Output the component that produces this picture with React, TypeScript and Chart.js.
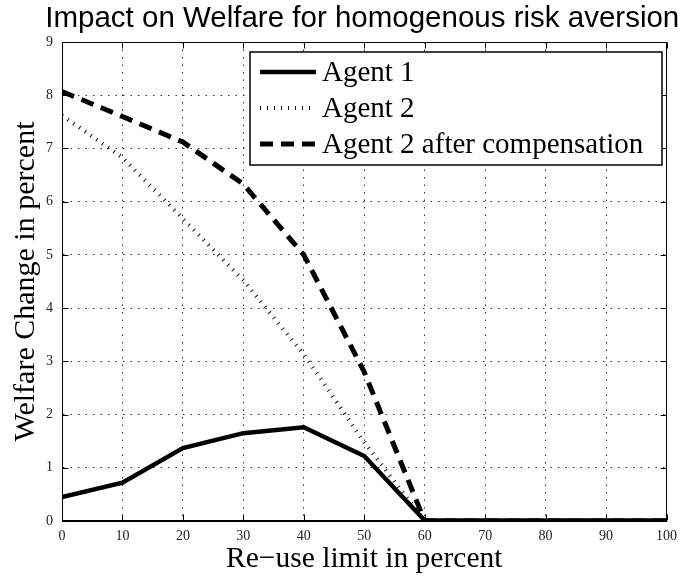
import React, { useEffect, useRef } from "react";
import { Chart, registerables } from "chart.js";

Chart.register(...registerables);

const reuseLimits = [0, 10, 20, 30, 40, 50, 60, 70, 80, 90, 100];
const agent1 = [0.45, 0.72, 1.37, 1.65, 1.76, 1.22, 0.01, 0.01, 0.01, 0.01, 0.01];
const agent2 = [7.62, 6.83, 5.68, 4.52, 3.13, 1.48, 0, 0, 0, 0, 0];
const agent2Comp = [8.07, 7.6, 7.12, 6.33, 5.0, 2.8, 0, 0, 0, 0, 0];
const seriesLabels = ["Agent 1", "Agent 2", "Agent 2 after compensation"];
const chartTitle = "Impact on Welfare for homogenous risk aversion";
const xTitle = "Re\u2212use limit in percent";
const yTitle = "Welfare Change in percent";

const SERIF = "'Liberation Serif', 'Times New Roman', serif";
const SANS = "'Liberation Sans', Arial, sans-serif";

const titlePlugin = {
  id: "freeTitle",
  afterDraw(chart: any) {
    const { ctx, chartArea: a } = chart;
    ctx.save();
    ctx.fillStyle = "#000";
    ctx.font = `29.5px ${SANS}`;
    ctx.textAlign = "center";
    ctx.textBaseline = "alphabetic";
    ctx.fillText(chartTitle, (a.left + a.right) / 2 - 2, 27);
    ctx.restore();
  },
};

const framePlugin = {
  id: "frame",
  afterDatasetsDraw(chart: any) {
    const { ctx, chartArea: a, scales } = chart;
    ctx.save();
    ctx.strokeStyle = "#000";
    ctx.lineWidth = 1;
    const L = Math.round(a.left) + 0.5;
    const T = Math.round(a.top) + 0.5;
    const R = Math.round(a.right) - 0.5;
    const B = Math.round(a.bottom) - 0.5;
    ctx.strokeRect(L, T, R - L, B - T);
    const tl = 6;
    ctx.beginPath();
    for (const t of scales.x.ticks) {
      const px = Math.round(scales.x.getPixelForValue(t.value)) + 0.5;
      ctx.moveTo(px, B);
      ctx.lineTo(px, B - tl);
      ctx.moveTo(px, T);
      ctx.lineTo(px, T + tl);
    }
    for (const t of scales.y.ticks) {
      const py = Math.round(scales.y.getPixelForValue(t.value)) + 0.5;
      ctx.moveTo(L, py);
      ctx.lineTo(L + tl, py);
      ctx.moveTo(R, py);
      ctx.lineTo(R - tl, py);
    }
    ctx.stroke();
    ctx.restore();
  },
};

const legendPlugin = {
  id: "boxLegend",
  afterDraw(chart: any) {
    const { ctx } = chart;
    const x0 = 250, y0 = 52, x1 = 662, y1 = 165;
    ctx.save();
    ctx.fillStyle = "#fff";
    ctx.fillRect(x0, y0, x1 - x0, y1 - y0);
    ctx.strokeStyle = "#000";
    ctx.lineWidth = 1.5;
    ctx.strokeRect(x0, y0, x1 - x0, y1 - y0);
    const rows = [72, 108, 144];
    chart.data.datasets.forEach((ds: any, i: number) => {
      const y = rows[i];
      ctx.save();
      ctx.strokeStyle = ds.borderColor;
      ctx.lineWidth = ds.borderWidth;
      ctx.setLineDash(ds.borderDash || []);
      ctx.beginPath();
      ctx.moveTo(260, y);
      ctx.lineTo(316, y);
      ctx.stroke();
      ctx.restore();
      ctx.fillStyle = "#000";
      ctx.font = `29px ${SERIF}`;
      ctx.textBaseline = "middle";
      ctx.textAlign = "left";
      ctx.fillText(ds.label, 322, y + 1);
    });
    ctx.restore();
  },
};

export default function App() {
  const ref = useRef<HTMLCanvasElement>(null);
  useEffect(() => {
    if (!ref.current) return;
    const gridStyle = {
      display: true,
      color: "#333",
      lineWidth: 1,
      drawTicks: false,
      tickLength: 0,
    };
    const chart = new Chart(ref.current, {
      type: "line",
      data: {
        datasets: [
          {
            label: seriesLabels[0],
            data: reuseLimits.map((x, i) => ({ x, y: agent1[i] })),
            borderColor: "#000",
            borderWidth: 4.5,
            pointRadius: 0,
            tension: 0,
          },
          {
            label: seriesLabels[1],
            data: reuseLimits.map((x, i) => ({ x, y: agent2[i] })),
            borderColor: "#111",
            borderWidth: 4,
            borderDash: [1, 6],
            pointRadius: 0,
            tension: 0,
          },
          {
            label: seriesLabels[2],
            data: reuseLimits.map((x, i) => ({ x, y: agent2Comp[i] })),
            borderColor: "#000",
            borderWidth: 5,
            borderDash: [13, 8],
            pointRadius: 0,
            tension: 0,
          },
        ],
      },
      options: {
        animation: false,
        responsive: false,
        maintainAspectRatio: false,
        layout: { padding: { left: 0, right: 14, top: 42, bottom: 0 } },
        plugins: {
          legend: { display: false },
          tooltip: { enabled: false },
          title: { display: false },
        },
        scales: {
          x: {
            type: "linear",
            min: 0,
            max: 100,
            ticks: {
              stepSize: 10,
              color: "#222",
              font: { family: SERIF, size: 14 },
              padding: 7,
              maxRotation: 0,
            },
            grid: { ...gridStyle } as any,
            border: { display: true, color: "#000", width: 1, dash: [1.5, 6] },
            title: {
              display: true,
              text: xTitle,
              color: "#000",
              font: { family: SERIF, size: 29.5 },
              padding: { top: 0, bottom: 3.6 },
            },
            afterFit(scale: any) {
              scale.height = 60;
            },
          },
          y: {
            type: "linear",
            min: 0,
            max: 9,
            ticks: {
              stepSize: 1,
              color: "#222",
              font: { family: SERIF, size: 14 },
              padding: 9,
            },
            grid: { ...gridStyle } as any,
            border: { display: true, color: "#000", width: 1, dash: [1.5, 6] },
            title: {
              display: true,
              text: yTitle,
              color: "#000",
              font: { family: SERIF, size: 30 },
              padding: { top: 8, bottom: 0 },
            },
            afterFit(scale: any) {
              scale.width = 62;
            },
          },
        },
      },
      plugins: [framePlugin, legendPlugin, titlePlugin],
    });
    return () => chart.destroy();
  }, []);
  return (
    <div style={{ position: "fixed", left: 0, top: 0, width: 684, height: 581, background: "#fff" }}>
      <canvas ref={ref} width={684} height={581} style={{ width: 684, height: 581, display: "block" }} />
    </div>
  );
}
